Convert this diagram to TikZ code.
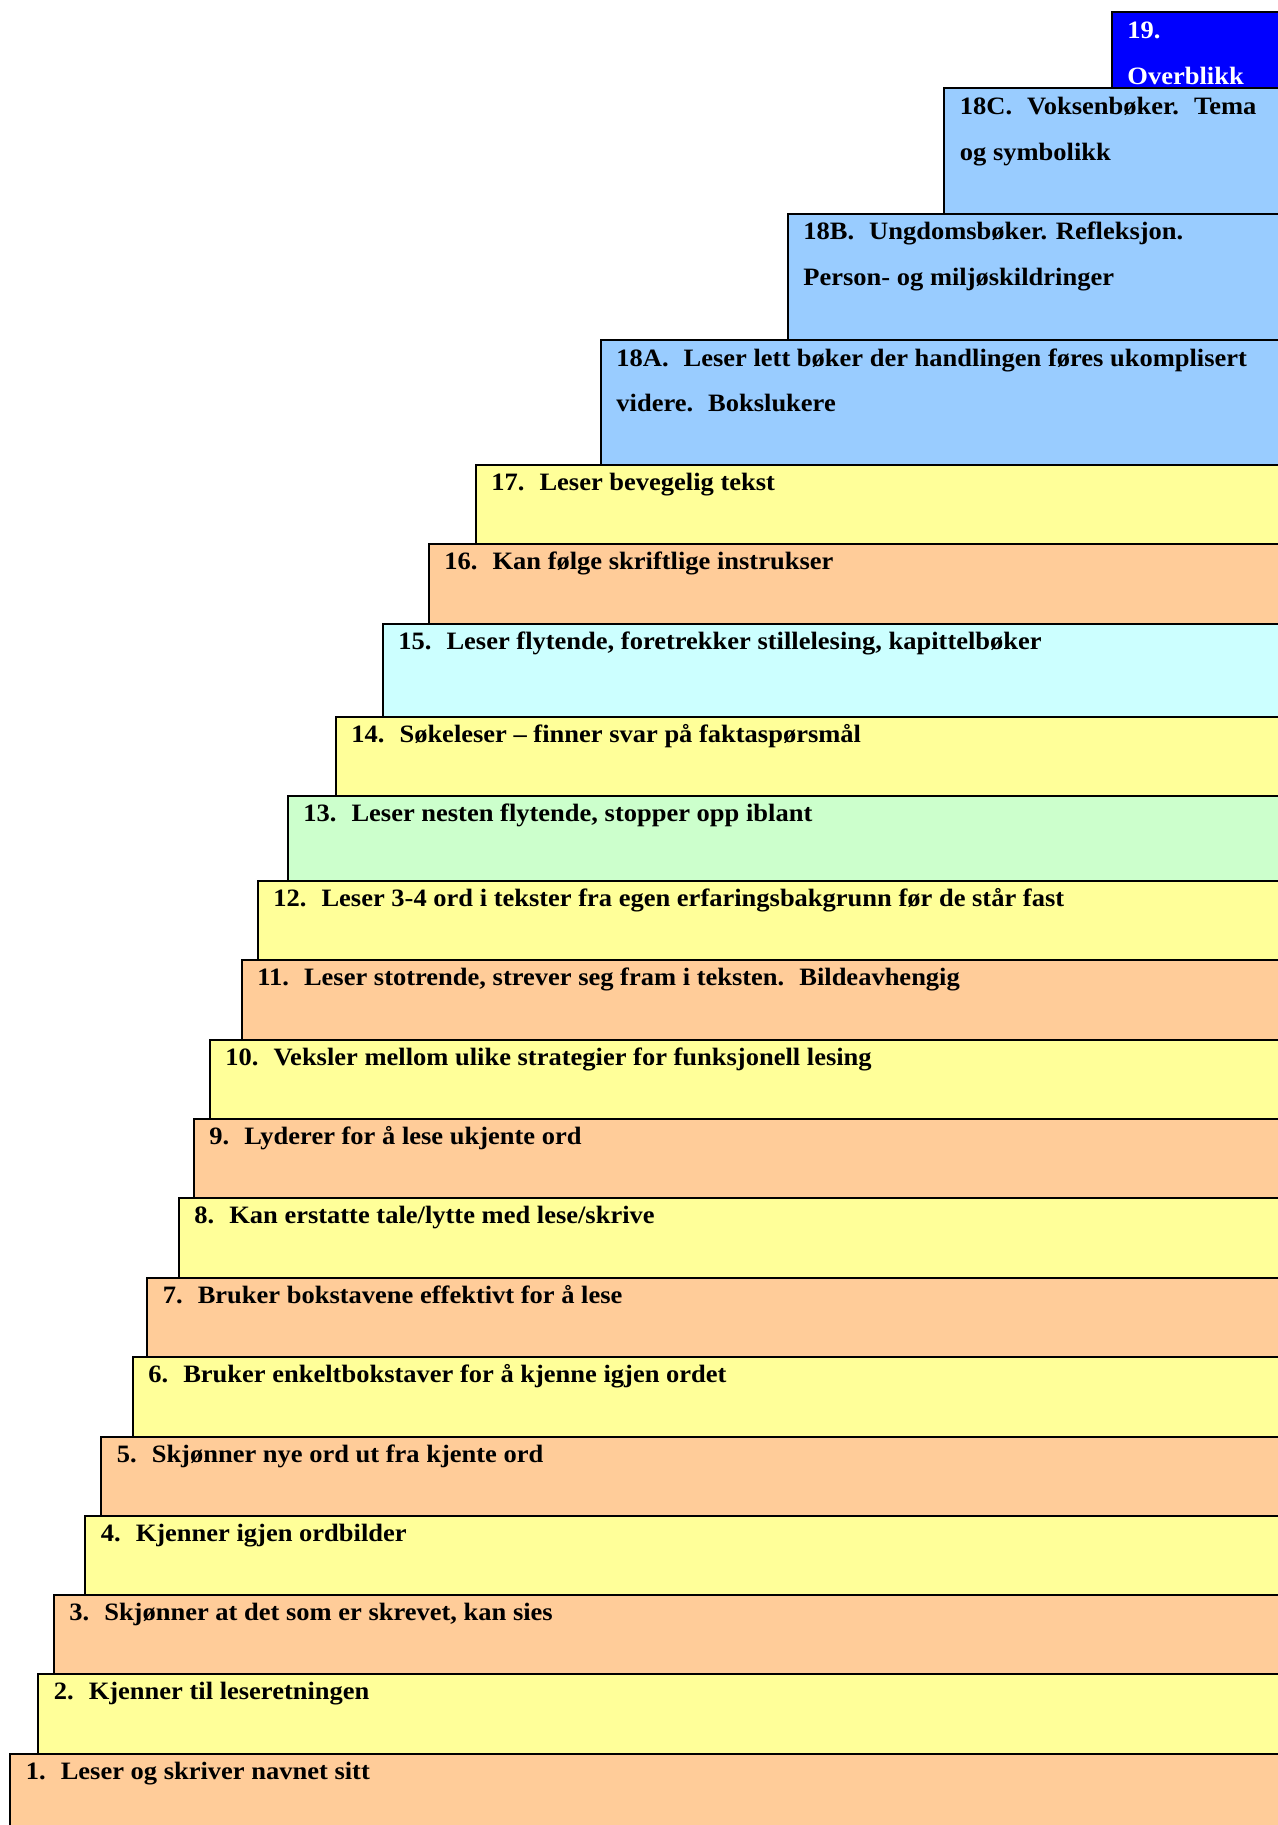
\documentclass[tikz,border=0pt]{standalone}
\usepackage{fontspec}
\setmainfont[FakeStretch=1.06]{Liberation Serif}
\usepackage{tikz}
\usepackage{xcolor}

\definecolor{peach}{HTML}{FFCC99}
\definecolor{paleyellow}{HTML}{FFFF99}
\definecolor{skyblue}{HTML}{99CCFF}
\definecolor{palecyan}{HTML}{CCFFFF}
\definecolor{palegreen}{HTML}{CCFFCC}
\definecolor{topblue}{HTML}{0000FF}

\tikzset{
  stepbox/.style={draw=black, line width=1pt},
  steplabel/.style={anchor=base west, inner sep=0pt, font=\bfseries\fontsize{12.5}{14}\selectfont},
}
\newcommand{\numgap}{\hspace{7.5pt}}

\begin{document}
\begin{tikzpicture}[x=0.5pt,y=-0.5pt]
	\useasboundingbox (0,0) rectangle (1278,1825);
	\clip (0,0) rectangle (1278,1825);
	% Steps, from the bottom up
	\filldraw[stepbox, fill=peach] (10,1754) rectangle (1300,1850);
	\filldraw[stepbox, fill=paleyellow] (38,1674) rectangle (1300,1754);
	\filldraw[stepbox, fill=peach] (53.5,1594.5) rectangle (1300,1674);
	\filldraw[stepbox, fill=paleyellow] (85,1515.5) rectangle (1300,1594.5);
	\filldraw[stepbox, fill=peach] (101,1437) rectangle (1300,1515.5);
	\filldraw[stepbox, fill=paleyellow] (132.5,1357) rectangle (1300,1437);
	\filldraw[stepbox, fill=peach] (147,1277.5) rectangle (1300,1357);
	\filldraw[stepbox, fill=paleyellow] (178.5,1197.5) rectangle (1300,1277.5);
	\filldraw[stepbox, fill=peach] (193.5,1118.5) rectangle (1300,1197.5);
	\filldraw[stepbox, fill=paleyellow] (209.5,1039.5) rectangle (1300,1118.5);
	\filldraw[stepbox, fill=peach] (241.5,959.5) rectangle (1300,1039.5);
	\filldraw[stepbox, fill=paleyellow] (257.5,880.5) rectangle (1300,959.5);
	\filldraw[stepbox, fill=palegreen] (287.5,796) rectangle (1300,880.5);
	\filldraw[stepbox, fill=paleyellow] (335.5,717) rectangle (1300,796);
	\filldraw[stepbox, fill=palecyan] (382.5,623.5) rectangle (1300,717);
	\filldraw[stepbox, fill=peach] (428.5,543.5) rectangle (1300,623.5);
	\filldraw[stepbox, fill=paleyellow] (475.5,464.5) rectangle (1300,543.5);
	\filldraw[stepbox, fill=skyblue] (600.5,339.5) rectangle (1300,464.5);
	\filldraw[stepbox, fill=skyblue] (787.5,213.5) rectangle (1300,339.5);
	\filldraw[stepbox, fill=skyblue] (944,88.5) rectangle (1300,213.5);
	\filldraw[stepbox, fill=topblue] (1111.5,12.5) rectangle (1300,88.5);
	% Labels
	\node[steplabel] (s1) at (25.5,1779.5) {1.\numgap Leser og skriver navnet sitt};
	\node[steplabel] (s2) at (53.5,1699.5) {2.\numgap Kjenner til leseretningen};
	\node[steplabel] (s3) at (69,1620) {3.\numgap Skjønner at det som er skrevet, kan sies};
	\node[steplabel] (s4) at (100.5,1541) {4.\numgap Kjenner igjen ordbilder};
	\node[steplabel] (s5) at (116.5,1462.5) {5.\numgap Skjønner nye ord ut fra kjente ord};
	\node[steplabel] (s6) at (148,1382.5) {6.\numgap Bruker enkeltbokstaver for å kjenne igjen ordet};
	\node[steplabel] (s7) at (162.5,1303) {7.\numgap Bruker bokstavene effektivt for å lese};
	\node[steplabel] (s8) at (194,1223) {8.\numgap Kan erstatte tale/lytte med lese/skrive};
	\node[steplabel] (s9) at (209,1144) {9.\numgap Lyderer for å lese ukjente ord};
	\node[steplabel] (s10) at (225,1065) {10.\numgap Veksler mellom ulike strategier for funksjonell lesing};
	\node[steplabel] (s11) at (257,985) {11.\numgap Leser stotrende, strever seg fram i teksten.\numgap Bildeavhengig};
	\node[steplabel] (s12) at (273,906) {12.\numgap Leser 3-4 ord i tekster fra egen erfaringsbakgrunn før de står fast};
	\node[steplabel] (s13) at (303,821.5) {13.\numgap Leser nesten flytende, stopper opp iblant};
	\node[steplabel] (s14) at (351,742.5) {14.\numgap Søkeleser – finner svar på faktaspørsmål};
	\node[steplabel] (s15) at (398,649) {15.\numgap Leser flytende, foretrekker stillelesing, kapittelbøker};
	\node[steplabel] (s16) at (444,569) {16.\numgap Kan følge skriftlige instrukser};
	\node[steplabel] (s17) at (491,490) {17.\numgap Leser bevegelig tekst};
	\node[steplabel] (s18a) at (616,366) {18A.\numgap Leser lett bøker der handlingen føres ukomplisert};
	\node[steplabel] (s18a2) at (616,411) {videre.\numgap Bokslukere};
	\node[steplabel] (s18b) at (803,239.5) {18B.\numgap Ungdomsbøker. Refleksjon.};
	\node[steplabel] (s18b2) at (803,285.5) {Person- og miljøskildringer};
	\node[steplabel] (s18c) at (959.5,115) {18C.\numgap Voksenbøker.\numgap Tema};
	\node[steplabel] (s18c2) at (959.5,161) {og symbolikk};
	\node[steplabel, text=white] (s19) at (1127,38.5) {19.};
	\node[steplabel, text=white] (s19b) at (1127,85) {Overblikk};
\end{tikzpicture}
\end{document}
